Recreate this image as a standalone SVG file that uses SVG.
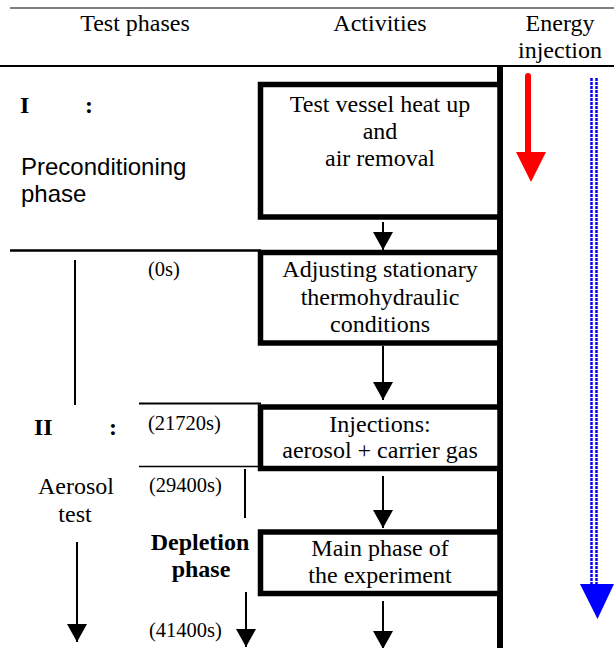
<svg xmlns="http://www.w3.org/2000/svg" width="614" height="648" viewBox="0 0 614 648">
<style>
.t{font-family:"Liberation Serif","Times New Roman",serif;font-size:24px;fill:#000}
.c{text-anchor:middle}
.b{font-weight:bold}
.s{font-family:"Liberation Sans",Arial,sans-serif;font-size:24px;fill:#000}
.tm{font-family:"Liberation Serif","Times New Roman",serif;font-size:20.5px;fill:#000}
.box{fill:#fff;stroke:#000;stroke-width:5.5}
.ln{stroke:#000;fill:none}
</style>
<defs>
<marker id="ah" markerWidth="18" markerHeight="20" refX="18" refY="10" orient="auto" markerUnits="userSpaceOnUse" viewBox="0 0 18 20">
<path d="M0,0 L18,10 L0,20 Z" fill="#000"/>
</marker>
</defs>
<g id="frame">
<line class="ln" x1="10" y1="8" x2="614" y2="8" stroke-width="1.2"/>
<line class="ln" x1="0" y1="66" x2="614" y2="66" stroke-width="2.2"/>
<line class="ln" x1="500" y1="65" x2="500" y2="648" stroke-width="6"/>
<line class="ln" x1="10" y1="250.5" x2="261" y2="250.5" stroke-width="2.5"/>
<line class="ln" x1="139" y1="403.5" x2="261" y2="403.5" stroke-width="2"/>
<line class="ln" x1="139" y1="466.5" x2="261" y2="466.5" stroke-width="1.5"/>
<text class="t c" x="135" y="31">Test phases</text>
<text class="t c" x="380" y="31">Activities</text>
<text class="t c" x="560" y="31">Energy</text>
<text class="t c" x="560" y="58">injection</text>
</g>
<g id="phase1">
<text class="t b" x="20" y="113">I</text>
<text class="t b" x="85" y="113">:</text>
<text class="s" x="21" y="175">Preconditioning</text>
<text class="s" x="21" y="202">phase</text>
</g>
<g id="phase2">
<text class="t b" x="34" y="435">II</text>
<text class="t b" x="109" y="435">:</text>
<text class="t c" x="76" y="494">Aerosol</text>
<text class="t c" x="75" y="522">test</text>
</g>
<g id="depletion">
<text class="t b c" x="200" y="550">Depletion</text>
<text class="t b c" x="201" y="577">phase</text>
</g>
<g id="times">
<text class="tm" x="148" y="276">(0s)</text>
<text class="tm" x="148" y="430">(21720s)</text>
<text class="tm" x="149" y="492">(29400s)</text>
<text class="tm" x="149" y="637">(41400s)</text>
</g>
<g id="box1">
<rect class="box" x="260.5" y="84.5" width="239.5" height="132.5"/>
<text class="t c" x="380" y="112">Test vessel heat up</text>
<text class="t c" x="380" y="139">and</text>
<text class="t c" x="380" y="166">air removal</text>
</g>
<g id="box2">
<rect class="box" x="260.5" y="252.5" width="239.5" height="90.5"/>
<text class="t c" x="380" y="277">Adjusting stationary</text>
<text class="t c" x="380" y="305">thermohydraulic</text>
<text class="t c" x="380" y="332">conditions</text>
</g>
<g id="box3">
<rect class="box" x="260.5" y="407" width="239.5" height="61.5"/>
<text class="t c" x="380" y="432">Injections:</text>
<text class="t c" x="380" y="458">aerosol + carrier gas</text>
</g>
<g id="box4">
<rect class="box" x="260.5" y="532" width="239.5" height="61.5"/>
<text class="t c" x="380" y="556">Main phase of</text>
<text class="t c" x="380" y="583">the experiment</text>
</g>
<g id="connectors">
<line class="ln" x1="383" y1="222" x2="383" y2="250" stroke-width="2" marker-end="url(#ah)"/>
<line class="ln" x1="383" y1="346" x2="383" y2="400" stroke-width="2" marker-end="url(#ah)"/>
<line class="ln" x1="383" y1="476" x2="383" y2="528" stroke-width="2" marker-end="url(#ah)"/>
<line class="ln" x1="383" y1="601" x2="383" y2="649" stroke-width="2" marker-end="url(#ah)"/>
<line class="ln" x1="75" y1="260" x2="75" y2="405" stroke-width="2"/>
<line class="ln" x1="77" y1="542" x2="77" y2="642" stroke-width="2" marker-end="url(#ah)"/>
<line class="ln" x1="245" y1="469" x2="245" y2="518" stroke-width="2"/>
<line class="ln" x1="246" y1="592" x2="246" y2="647" stroke-width="2" marker-end="url(#ah)"/>
</g>
<g id="energy">
<line x1="528" y1="76" x2="528" y2="154" stroke="#ff0000" stroke-width="6" stroke-linecap="round"/>
<polygon points="516,152 546,152 531,182" fill="#ff0000"/>
<line x1="591.5" y1="78" x2="591.5" y2="586" stroke="#0000ff" stroke-width="2.5" stroke-dasharray="3 1"/>
<line x1="596.5" y1="78" x2="596.5" y2="586" stroke="#0000ff" stroke-width="2.5" stroke-dasharray="3 1"/>
<polygon points="580,584 614,584 597.5,619" fill="#0000ff"/>
</g>
</svg>
